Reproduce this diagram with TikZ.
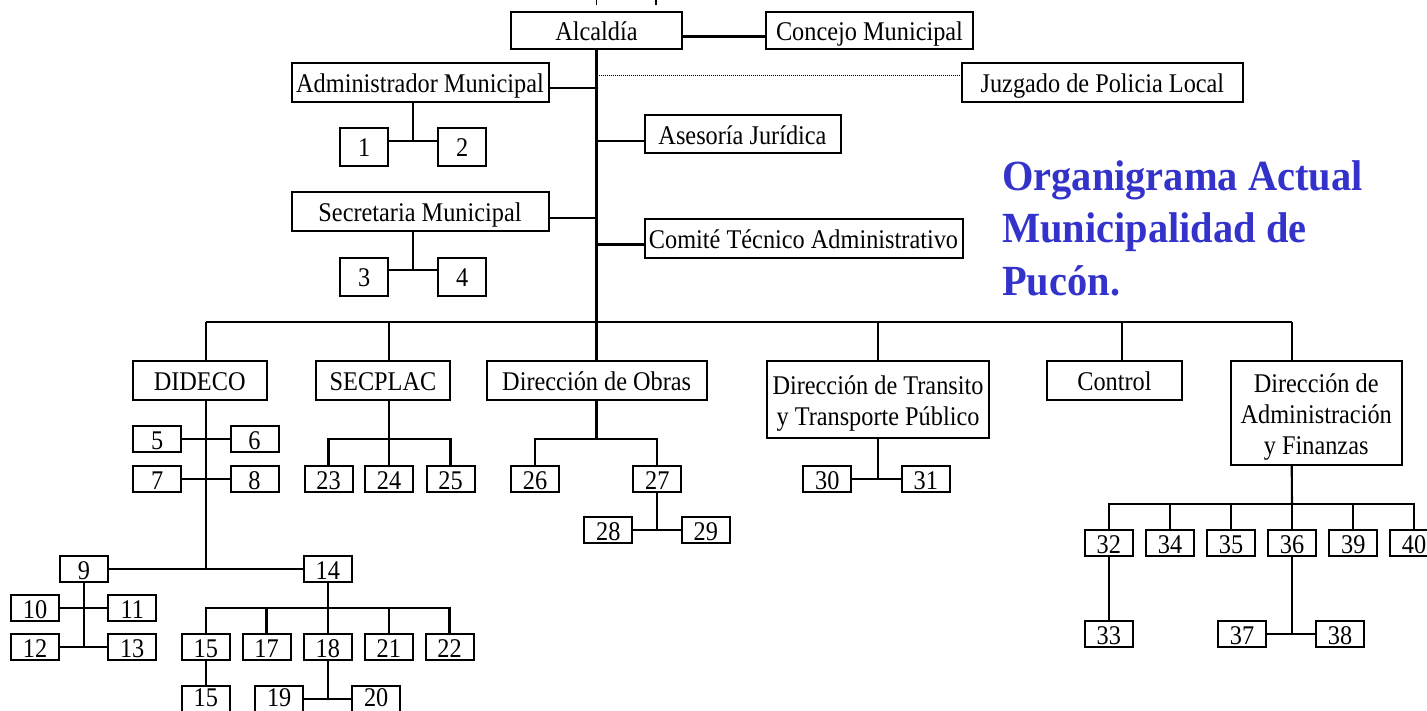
\documentclass[tikz,border=0pt]{standalone}
\usepackage{fontspec}
\setmainfont{Liberation Serif}[FakeStretch=0.9]
\newfontfamily\titlefont{Liberation Serif}[FakeStretch=0.94]
\usetikzlibrary{calc}
\definecolor{titleblue}{RGB}{51,51,204}
\begin{document}
\begin{tikzpicture}[x=1pt,y=-1pt,
  ln/.style={line width=2.1pt},
  dotln/.style={line width=1.2pt, dash pattern=on 1pt off 1pt},
  bx/.style={draw, line width=2pt, inner sep=0pt, text height=20pt, text depth=0pt,
             font=\fontsize{27}{31}\selectfont, align=center},
  nbig/.style={bx, minimum width=48pt, minimum height=38pt},
  nb/.style={bx, minimum width=48pt, minimum height=26pt},
  lvl/.style={bx, minimum height=39pt},
  ttl/.style={anchor=base west, inner sep=0pt, text=titleblue,
              font=\titlefont\bfseries\fontsize{43}{52}\selectfont}]
\useasboundingbox (0,0) rectangle (1427,710);
\fill[white] (0,0) rectangle (1427,710);
\clip (0,0) rectangle (1427,710);

% top fragments
\draw[line width=1.5pt] (596.7,0) -- (596.7,5);
\draw[line width=1.5pt] (656,0) -- (656,5);

% top level
\node[bx, minimum width=171pt, minimum height=37pt] (alc) at (596.5,30.8) {Alcaldía};
\node[bx, minimum width=207pt, minimum height=37pt] (conc) at (869.5,30.8) {Concejo Municipal};
\node[lvl, minimum width=257pt] (adm) at (420,82) {Administrador Municipal};
\node[lvl, minimum width=281pt] (juz) at (1102.4,82.3) {Juzgado de Policia Local};
\node[nbig] (n1) at (364.2,146.9) {1};
\node[nbig] (n2) at (462.2,146.9) {2};
\node[bx, minimum width=196pt, minimum height=38pt] (ase) at (742.5,134.2) {Asesoría Jurídica};
\node[lvl, minimum width=257pt] (sec) at (420,211.7) {Secretaria Municipal};
\node[nbig] (n3) at (364.2,276.5) {3};
\node[nbig] (n4) at (462.2,276.5) {4};
\node[lvl, minimum width=318pt] (com) at (803.5,238) {Comité Técnico Administrativo};

% title
\node[ttl] (t1) at (1002,190) {Organigrama Actual};
\node[ttl] (t2) at (1002,242.7) {Municipalidad de};
\node[ttl] (t3) at (1002,295) {Pucón.};

% second level
\node[lvl, minimum width=134pt] (dideco) at (199.7,380.5) {DIDECO};
\node[lvl, minimum width=134pt] (secplac) at (383,380.5) {SECPLAC};
\node[lvl, minimum width=220pt] (obras) at (596.7,380.5) {Dirección de Obras};
\node[bx, minimum width=222.6pt, minimum height=77.3pt, text height=51pt] (trans) at (878,399.7) {Dirección de Transito\\y Transporte Público};
\node[lvl, minimum width=134.4pt] (control) at (1114.5,380.5) {Control};
\node[bx, minimum width=171pt, minimum height=104pt, text height=82pt] (daf) at (1316.2,413) {Dirección de\\Administración\\y Finanzas};

% DIDECO subtree
\node[nb] (d5) at (157.2,439) {5};
\node[nb] (d6) at (254.5,439) {6};
\node[nb] (d7) at (157.2,479) {7};
\node[nb] (d8) at (254.5,479) {8};
\node[nb] (d9) at (84,569) {9};
\node[nb] (d14) at (327.8,569) {14};
\node[nb] (d10) at (35,608) {10};
\node[nb] (d11) at (132.2,608) {11};
\node[nb] (d12) at (35,647) {12};
\node[nb] (d13) at (132.2,647) {13};
\node[nb] (d15) at (205.8,647) {15};
\node[nb] (d17) at (266.5,647) {17};
\node[nb] (d18) at (327.8,647) {18};
\node[nb] (d21) at (388.8,647) {21};
\node[nb] (d22) at (449.5,647) {22};
\node[nb, text height=16pt] (d15b) at (205.8,698.7) {15};
\node[nb, text height=16pt] (d19) at (279.2,698.7) {19};
\node[nb, text height=16pt] (d20) at (376.2,698.7) {20};

% SECPLAC subtree
\node[nb] (s23) at (328.5,479) {23};
\node[nb] (s24) at (389,479) {24};
\node[nb] (s25) at (450.5,479) {25};

% Obras subtree
\node[nb] (o26) at (535,479) {26};
\node[nb] (o27) at (657.3,479) {27};
\node[nb] (o28) at (608.3,530.3) {28};
\node[nb] (o29) at (705.8,530.3) {29};

% Transito subtree
\node[nb] (t30) at (827.3,479) {30};
\node[nb] (t31) at (925.8,479) {31};

% DAF subtree
\node[nb] (f32) at (1108.8,543.3) {32};
\node[nb] (f34) at (1170,543.3) {34};
\node[nb] (f35) at (1231,543.3) {35};
\node[nb] (f36) at (1292,543.3) {36};
\node[nb] (f39) at (1353.3,543.3) {39};
\node[nb] (f40) at (1414,543.3) {40};
\node[nb] (f33) at (1108.8,634) {33};
\node[nb] (f37) at (1242,634) {37};
\node[nb] (f38) at (1340,634) {38};

% helper coordinates
\coordinate (busy) at (0,322);
\coordinate (dx) at (206,0);
\coordinate (sx) at (389.3,0);
\coordinate (cx) at (1121.7,0);
\coordinate (fx) at (1291.7,0);
\coordinate (sb) at (389.3,439);
\coordinate (ob) at (596.5,439.3);
\coordinate (b14) at (327.8,608.3);
\coordinate (fb) at (1292,504);
\coordinate (m12) at ($(n1.east)!0.5!(n2.west)+(0,-6.2)$);
\coordinate (m34) at ($(n3.east)!0.5!(n4.west)+(0,-6.5)$);

% top connectors
\draw[ln] ([yshift=-5.7pt]alc.east) -- ([yshift=-5.7pt]alc.east -| conc.west);
\draw[ln] (alc.south) -- (alc.south |- obras.north);
\draw[ln] ([yshift=-6.3pt]adm.east) -- ([yshift=-6.3pt]adm.east -| alc.south);
\draw[dotln] ([yshift=6.8pt]juz.west -| alc.south) -- ([yshift=6.8pt]juz.west);
\draw[ln] ([yshift=-7pt]ase.west -| alc.south) -- ([yshift=-7pt]ase.west);
\draw[ln] ([yshift=-6.6pt]sec.east) -- ([yshift=-6.6pt]sec.east -| alc.south);
\draw[ln] ([yshift=-6.5pt]com.west -| alc.south) -- ([yshift=-6.5pt]com.west);
\draw[ln] (m12 -| n1.east) -- (m12 -| n2.west);
\draw[ln] (m12 |- adm.south) -- (m12);
\draw[ln] (m34 -| n3.east) -- (m34 -| n4.west);
\draw[ln] (m34 |- sec.south) -- (m34);

% main bus
\draw[ln] (dx |- busy) -- (fx |- busy);
\draw[ln] (dx |- busy) -- (dx |- dideco.north);
\draw[ln] (sx |- busy) -- (sx |- secplac.north);
\draw[ln] (trans.north |- busy) -- (trans.north);
\draw[ln] (cx |- busy) -- (cx |- control.north);
\draw[ln] (fx |- busy) -- (fx |- daf.north);

% DIDECO connectors
\draw[ln] (dx |- dideco.south) -- (dx |- d9.east);
\draw[ln] (d5.east) -- (d6.west);
\draw[ln] (d7.east) -- (d8.west);
\draw[ln] (d9.east) -- (d14.west);
\draw[ln] (d9.south) -- (d9.south |- d12.east);
\draw[ln] (d10.east) -- (d11.west);
\draw[ln] (d12.east) -- (d13.west);
\draw[ln] (d14.south) -- (b14) -- (d18.north);
\draw[ln] (d15.north) |- (b14) -| (d22.north);
\draw[ln] (d17.north) -- (d17.north |- b14);
\draw[ln] (d21.north) -- (d21.north |- b14);
\draw[ln] (d15.south) -- (d15b.north);
\draw[ln] (d18.south) -- (d18.south |- d19.east);
\draw[ln] (d19.east) -- (d20.west);

% SECPLAC connectors
\draw[ln] (sx |- secplac.south) -- (sb) -- (sb |- s24.north);
\draw[ln] (s23.north) |- (sb) -| (s25.north);

% Obras connectors
\draw[ln] (obras.south -| ob) -- (ob);
\draw[ln] (o26.north) |- (ob) -| (o27.north);
\draw[ln] (o27.south) -- (o27.south |- o28.east);
\draw[ln] (o28.east) -- (o29.west);

% Transito connectors
\draw[ln] (trans.south) -- (trans.south |- t30.east);
\draw[ln] (t30.east) -- (t31.west);

% DAF connectors
\draw[ln] (fx |- daf.south) -- (fb);
\draw[ln] (f32.north) |- (fb) -| (f40.north);
\draw[ln] (f34.north) -- (f34.north |- fb);
\draw[ln] (f35.north) -- (f35.north |- fb);
\draw[ln] (f36.north) -- (f36.north |- fb);
\draw[ln] (f39.north) -- (f39.north |- fb);
\draw[ln] (f32.south) -- (f33.north);
\draw[ln] (f36.south) -- (f36.south |- f37.east);
\draw[ln] (f37.east) -- (f38.west);
\end{tikzpicture}
\end{document}
